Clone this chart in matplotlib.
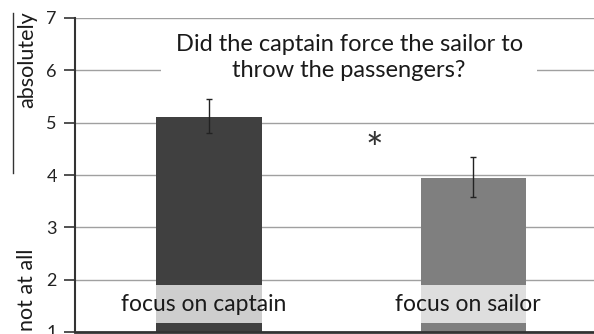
import matplotlib
matplotlib.use("Agg")
import matplotlib.pyplot as plt
from matplotlib.lines import Line2D

plt.rcParams['font.family'] = ['Lato', 'DejaVu Sans']

# data
conditions = ['focus on captain', 'focus on sailor']
means = [5.1, 3.95]
err_low = [0.3, 0.37]
err_high = [0.35, 0.4]
bar_colors = ['#404040', '#7f7f7f']
yticks = [1, 2, 3, 4, 5, 6, 7]
title = 'Did the captain force the sailor to\nthrow the passengers?'


def main():
    fig = plt.figure(figsize=(5.94, 3.34), dpi=100)
    # axes: left spine at x=75px, y=1 at 332px, y=7 at 18px
    ax = fig.add_axes([75 / 594, 2 / 334, 1 - 75 / 594, (332 - 18) / 334])

    x = list(range(len(conditions)))
    ax.bar(x, [m - 1 for m in means], bottom=1, width=0.4, color=bar_colors, zorder=2)
    ax.errorbar(x, means, yerr=[err_low, err_high], fmt='none', ecolor='#222222',
                elinewidth=1, capsize=2.5, capthick=1, zorder=3)

    ax.set_ylim(1, 7)
    ax.set_xlim(-0.507, 1.456)
    ax.set_yticks(yticks)
    ax.set_xticks([])
    ax.grid(axis='y', color='#a0a0a0', linewidth=1, zorder=0)
    ax.tick_params(axis='y', direction='out', length=8, width=1.2, color='#333333',
                   labelsize=13, pad=5, labelcolor='#222222')
    for s in ['top', 'right']:
        ax.spines[s].set_visible(False)
    ax.spines['left'].set_linewidth(1.5)
    ax.spines['left'].set_color('#333333')
    ax.spines['bottom'].set_linewidth(2)
    ax.spines['bottom'].set_color('#333333')

    # condition labels on semi-transparent boxes
    for xi, lab in zip(x, conditions):
        ax.text(xi - 0.02, 1.53, lab, ha='center', va='center', fontsize=16.5, color='#1a1a1a',
                zorder=4, bbox=dict(boxstyle='square,pad=0.38', fc='white', ec='none', alpha=0.75))

    # title inside plot on a white box
    ax.text(0.53, 6.24, title, ha='center', va='center', fontsize=17, color='#1a1a1a',
            linespacing=1.32, zorder=4,
            bbox=dict(boxstyle='square,pad=0.6', fc='white', ec='none'))

    ax.text(0.625, 4.45, '*', ha='center', va='center', fontsize=30, color='#333333', zorder=4)

    # y-axis end labels
    fig.text(27 / 594, 1 - 60 / 334, 'absolutely', rotation=90, ha='center', va='center',
             fontsize=15.5, color='#1a1a1a')
    fig.text(27 / 594, 1 - 290 / 334, 'not at all', rotation=90, ha='center', va='center',
             fontsize=15.5, color='#1a1a1a')
    fig.add_artist(Line2D([13 / 594, 13 / 594], [1 - 13 / 334, 1 - 173 / 334],
                          color='#333333', linewidth=1))

    fig.savefig('out.png', dpi=100)


if __name__ == "__main__":
    main()
